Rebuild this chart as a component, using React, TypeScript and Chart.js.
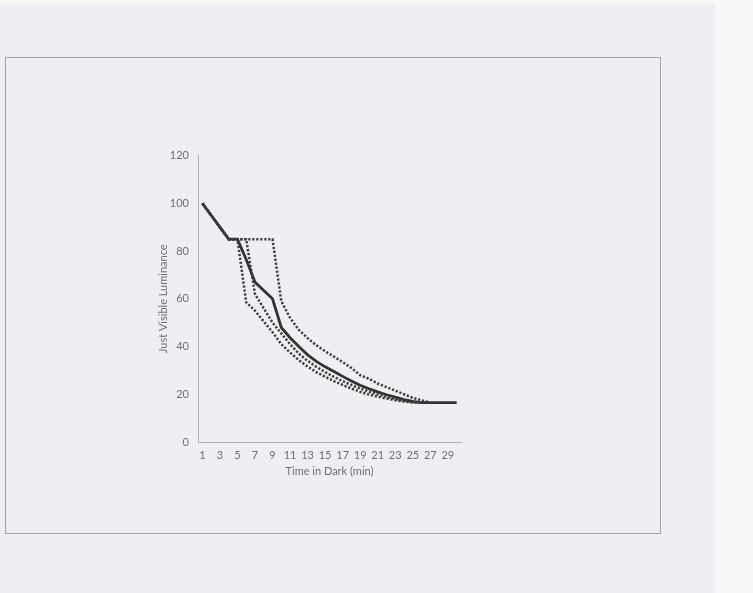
import React, { useEffect, useRef } from "react";
import { Chart, registerables } from "chart.js";

Chart.register(...registerables);

const categories = Array.from({ length: 30 }, (_, i) => String(i + 1));

// Solid mean curve
const meanValues = [100, 95, 90, 85, 85, 76.5, 67, 63.5, 60, 48, 43.7, 40, 36.5, 33.8, 31.5, 29.5, 27.5, 25.6, 23.8, 22.3, 21, 19.8, 18.8, 17.8, 17, 16.5, 16.5, 16.5, 16.5, 16.5];

// Dotted curves
const earlyValues = [100, 95, 90, 85, 85, 58.5, 55, 50.5, 46, 41, 37.5, 34.3, 31.6, 29.3, 27.3, 25.5, 23.9, 22.4, 21, 19.9, 19, 18.2, 17.5, 17, 16.5, 16.5, null, null, null, null];
const midValues = [100, 95, 90, 85, 85, 85, 62, 56, 50, 45.5, 41, 37, 34, 31.5, 29.3, 27.3, 25.5, 23.9, 22.4, 21.1, 20, 19, 18.1, 17.3, 16.7, 16.5, null, null, null, null];
const lateValues = [100, 95, 90, 85, 85, 85, 85, 85, 85, 59, 52, 47, 43.5, 40.5, 38, 35.8, 33.5, 31, 28, 26.5, 24.5, 23, 21.5, 20, 18.5, 17.5, 16.5, null, null, null];

const yTicks = [0, 20, 40, 60, 80, 100, 120];

const FONT = "Lato, 'Open Sans', sans-serif";
const TEXT_COLOR = "#6e6e6e";

export default function App() {
  const ref = useRef<HTMLCanvasElement | null>(null);

  useEffect(() => {
    if (!ref.current) return;
    const dotted = (data: (number | null)[]) => ({
      data,
      borderColor: "#3c3c3c",
      borderWidth: 2.5,
      borderDash: [2.2, 1.8],
      pointRadius: 0,
      tension: 0,
      fill: false,
      spanGaps: false,
    });
    const chart = new Chart(ref.current, {
      type: "line",
      data: {
        labels: categories,
        datasets: [
          dotted(earlyValues),
          dotted(midValues),
          dotted(lateValues),
          {
            data: meanValues,
            borderColor: "#333333",
            borderWidth: 2.8,
            pointRadius: 0,
            tension: 0,
            fill: false,
          },
        ],
      },
      options: {
        animation: false,
        responsive: false,
        maintainAspectRatio: false,
        layout: { padding: { left: 7, top: 14, right: 19, bottom: 12 } },
        plugins: { legend: { display: false }, tooltip: { enabled: false } },
        scales: {
          x: {
            type: "category",
            offset: true,
            grid: { display: false, drawTicks: false },
            border: { display: true, color: "#b0b0b4", width: 1 },
            ticks: {
              autoSkip: false,
              maxRotation: 0,
              padding: 7,
              color: TEXT_COLOR,
              font: { family: FONT, size: 11 },
              callback: (_v: any, i: number) => (i % 2 === 0 ? categories[i] : ""),
            },
            title: {
              display: true,
              text: "Time in Dark (min)",
              color: TEXT_COLOR,
              font: { family: FONT, size: 11 },
              padding: 0,
            },
            afterFit: (s: any) => {
              s.height = 36;
            },
          },
          y: {
            min: 0,
            max: 120,
            afterBuildTicks: (s: any) => {
              s.ticks = yTicks.map((v) => ({ value: v }));
            },
            grid: { display: false, drawTicks: false },
            border: { display: true, color: "#b0b0b4", width: 1 },
            ticks: {
              padding: 9,
              color: TEXT_COLOR,
              font: { family: FONT, size: 11 },
            },
            title: {
              display: true,
              text: "Just Visible Luminance",
              color: TEXT_COLOR,
              font: { family: FONT, size: 11 },
              padding: 0,
            },
            afterFit: (s: any) => {
              s.width = 41;
            },
          },
        },
      },
    });
    return () => chart.destroy();
  }, []);

  return (
    <div
      style={{
        position: "fixed",
        left: 0,
        top: 0,
        width: 753,
        height: 593,
        background: "#f0eef2",
        overflow: "hidden",
      }}
    >
      <div
        style={{
          position: "absolute",
          left: 0,
          top: 0,
          width: 715,
          height: 4,
          background: "#f6f5f2",
        }}
      />
      <div
        style={{
          position: "absolute",
          left: 715,
          top: 0,
          width: 38,
          height: 593,
          background: "#f8f7fa",
        }}
      />
      <div
        style={{
          position: "absolute",
          left: 5,
          top: 57,
          width: 654,
          height: 475,
          border: "1px solid #a4a3ab",
        }}
      />
      <canvas
        ref={ref}
        width={330}
        height={350}
        style={{ position: "absolute", left: 150, top: 140, width: 330, height: 350 }}
      />
    </div>
  );
}
